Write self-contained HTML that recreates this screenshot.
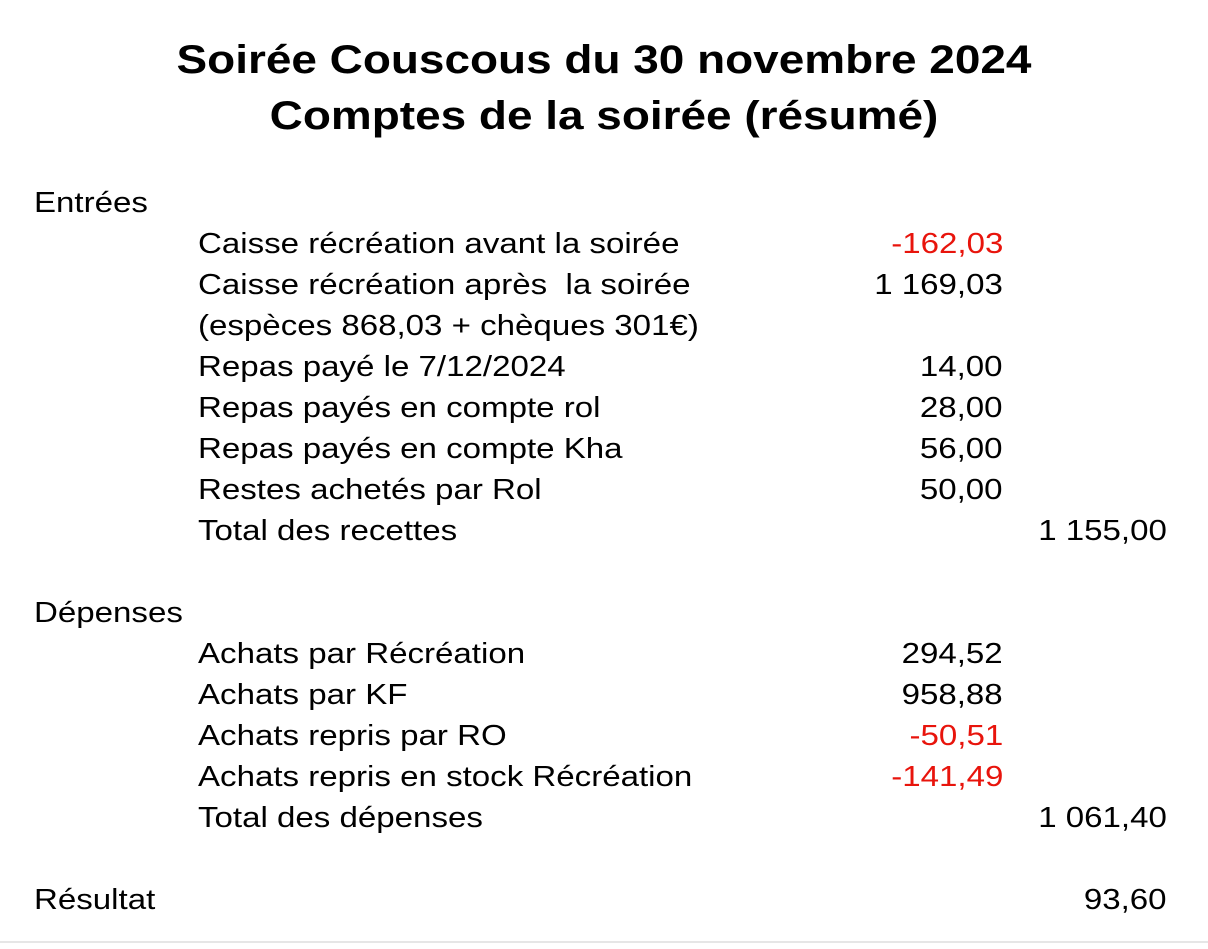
<!DOCTYPE html>
<html><head><meta charset="utf-8"><style>
html,body{margin:0;padding:0;background:#fff;}
body{width:1208px;height:949px;position:relative;overflow:hidden;font-family:"Liberation Sans",Arial,sans-serif;color:#000;}
.t{position:absolute;left:0;width:1208px;text-align:center;font-weight:bold;font-size:40px;line-height:48px;transform:scaleX(1.148);transform-origin:center;}
.r{position:absolute;font-size:29px;line-height:41px;white-space:pre;transform:scaleX(1.14);}
.l,.i{transform-origin:left;}
.l{left:34px;}
.i{left:198px;}
.n,.s{transform-origin:right;text-align:right;}
.n{right:205px;}
.s{right:41px;}
.red{color:#e8140c;}
.hr{position:absolute;left:0;width:1208px;top:941px;height:2px;background:#e6e6e6;}
</style></head><body>
<div class="t" style="top:36px">Soirée Couscous du 30 novembre 2024</div>
<div class="t" style="top:92px">Comptes de la soirée (résumé)</div>

<div class="r l" style="top:183px">Entrées</div>
<div class="r i" style="top:224px">Caisse récréation avant la soirée</div><div class="r n red" style="top:224px">-162,03</div>
<div class="r i" style="top:265px">Caisse récréation après  la soirée</div><div class="r n" style="top:265px">1 169,03</div>
<div class="r i" style="top:306px">(espèces 868,03 + chèques 301€)</div>
<div class="r i" style="top:347px">Repas payé le 7/12/2024</div><div class="r n" style="top:347px">14,00</div>
<div class="r i" style="top:388px">Repas payés en compte rol</div><div class="r n" style="top:388px">28,00</div>
<div class="r i" style="top:429px">Repas payés en compte Kha</div><div class="r n" style="top:429px">56,00</div>
<div class="r i" style="top:470px">Restes achetés par Rol</div><div class="r n" style="top:470px">50,00</div>
<div class="r i" style="top:511px">Total des recettes</div><div class="r s" style="top:511px">1 155,00</div>

<div class="r l" style="top:593px">Dépenses</div>
<div class="r i" style="top:634px">Achats par Récréation</div><div class="r n" style="top:634px">294,52</div>
<div class="r i" style="top:675px">Achats par KF</div><div class="r n" style="top:675px">958,88</div>
<div class="r i" style="top:716px">Achats repris par RO</div><div class="r n red" style="top:716px">-50,51</div>
<div class="r i" style="top:757px">Achats repris en stock Récréation</div><div class="r n red" style="top:757px">-141,49</div>
<div class="r i" style="top:798px">Total des dépenses</div><div class="r s" style="top:798px">1 061,40</div>

<div class="r l" style="top:880px">Résultat</div><div class="r s" style="top:880px">93,60</div>
<div class="hr"></div>
</body></html>
